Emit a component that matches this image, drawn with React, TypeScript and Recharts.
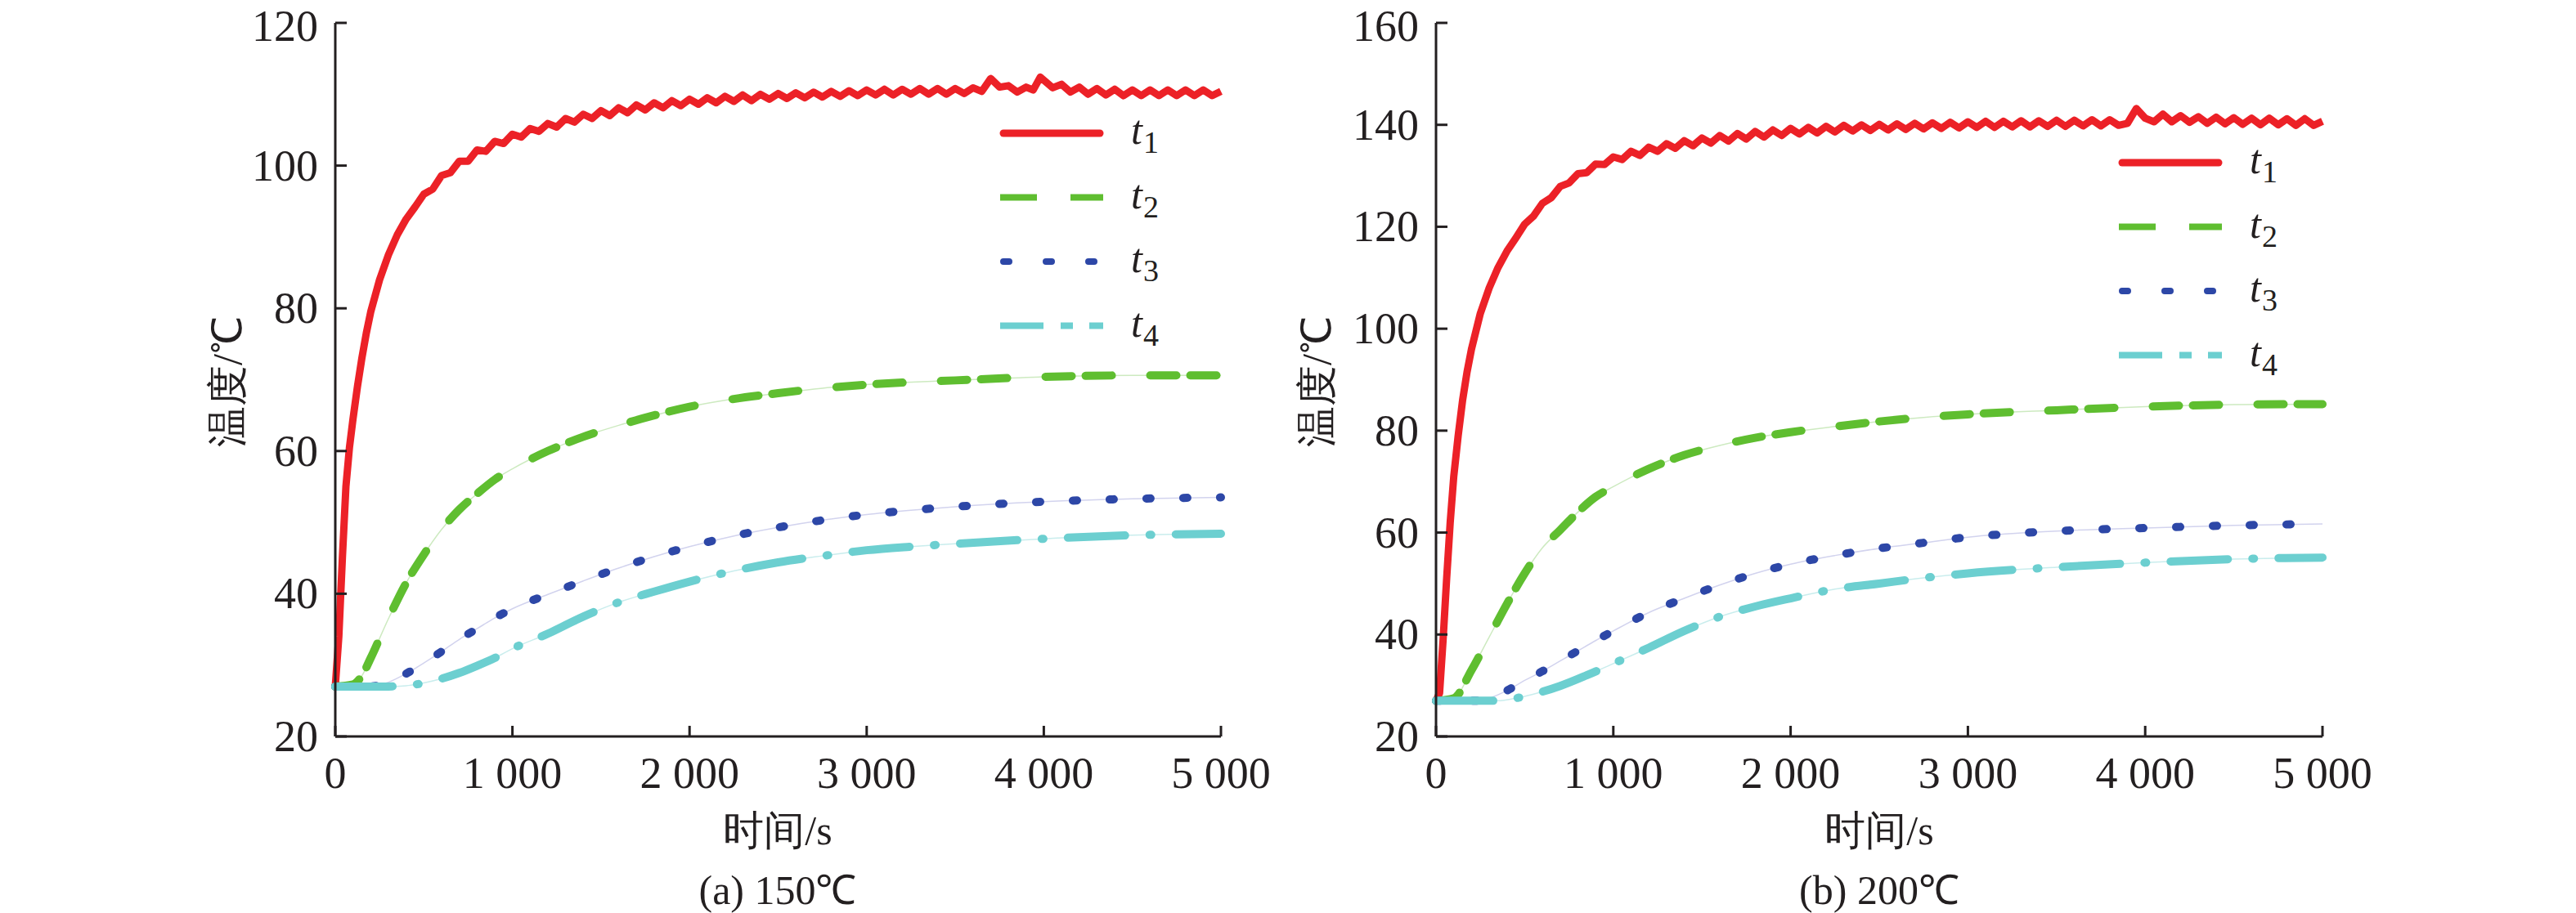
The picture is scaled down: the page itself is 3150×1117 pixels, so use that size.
import React from 'react';
import { LineChart, Line, XAxis, YAxis, Legend } from 'recharts';

// ---------- data: [time (s), temperature (°C)] ----------
const xTicks = [0, 1000, 2000, 3000, 4000, 5000];
const yTicksA = [20, 40, 60, 80, 100, 120];
const yTicksB = [20, 40, 60, 80, 100, 120, 140, 160];

// (a) 150 ℃
const a_t1: [number, number][] = [
  [0, 27], [20, 34], [40, 45], [60, 55], [80, 60.5], [100, 64.5], [125, 69], [150, 73], [175, 76.5],
  [200, 79.5], [250, 84], [300, 87.5], [350, 90.3], [400, 92.5], [450, 94.2], [500, 96.0], [550, 96.7],
  [600, 98.6], [650, 99.0], [700, 100.6], [750, 100.6], [800, 102.2], [850, 102.0], [900, 103.4],
  [950, 103.1], [1000, 104.4], [1050, 104.0], [1100, 105.2], [1150, 104.8], [1200, 105.9], [1250, 105.4],
  [1300, 106.6], [1350, 106.1], [1400, 107.2], [1450, 106.6], [1500, 107.7], [1550, 107.0], [1600, 108.1],
  [1650, 107.4], [1700, 108.5], [1750, 107.8], [1800, 108.8], [1850, 108.1], [1900, 109.1], [1950, 108.4],
  [2000, 109.3], [2050, 108.6], [2100, 109.5], [2150, 108.8], [2200, 109.7], [2250, 109.0], [2300, 109.9],
  [2350, 109.1], [2400, 110.0], [2450, 109.3], [2500, 110.1], [2550, 109.4], [2600, 110.2], [2650, 109.5],
  [2700, 110.3], [2750, 109.6], [2800, 110.4], [2850, 109.7], [2900, 110.5], [2950, 109.8], [3000, 110.6],
  [3050, 109.9], [3100, 110.7], [3150, 109.9], [3200, 110.7], [3250, 110.0], [3300, 110.8], [3350, 110.0],
  [3400, 110.8], [3450, 110.0], [3500, 110.8], [3550, 110.1], [3600, 110.9], [3650, 110.4], [3700, 112.2],
  [3750, 111.0], [3800, 111.2], [3850, 110.3], [3900, 111.0], [3940, 110.6], [3980, 112.4], [4050, 110.9],
  [4100, 111.4], [4150, 110.3], [4200, 111.0], [4250, 110.0], [4300, 110.8], [4350, 109.9], [4400, 110.7],
  [4450, 109.8], [4500, 110.6], [4550, 109.8], [4600, 110.6], [4650, 109.8], [4700, 110.6], [4750, 109.8],
  [4800, 110.6], [4850, 109.8], [4900, 110.6], [4950, 109.8], [5000, 110.4],
];
const a_t2: [number, number][] = [
  [0, 27], [100, 27.3], [150, 28.5], [200, 31], [300, 36.5], [400, 41.5], [500, 45.5], [600, 49],
  [700, 51.8], [800, 54], [900, 56], [1000, 57.5], [1200, 60], [1400, 62], [1600, 63.6], [1800, 65],
  [2000, 66.2], [2250, 67.3], [2500, 68.1], [2750, 68.8], [3000, 69.3], [3500, 69.9], [4000, 70.4],
  [4500, 70.6], [5000, 70.6],
];
const a_t3: [number, number][] = [
  [0, 27], [200, 27], [300, 27.6], [400, 28.8], [500, 30.3], [600, 31.9], [700, 33.6], [800, 35.1],
  [900, 36.6], [1000, 37.9], [1200, 39.9], [1400, 41.8], [1600, 43.6], [1800, 45.2], [2000, 46.6],
  [2250, 48.1], [2500, 49.3], [2750, 50.3], [3000, 51.1], [3250, 51.7], [3500, 52.2], [4000, 52.9],
  [4500, 53.3], [5000, 53.5],
];
const a_t4: [number, number][] = [
  [0, 27], [300, 27], [400, 27.1], [500, 27.5], [600, 28.1], [700, 28.9], [800, 29.9], [900, 31],
  [1000, 32.3], [1200, 34.4], [1400, 36.8], [1600, 38.8], [1800, 40.3], [2000, 41.7], [2250, 43.2],
  [2500, 44.4], [2750, 45.3], [3000, 46.1], [3250, 46.6], [3500, 47], [4000, 47.7], [4500, 48.2],
  [5000, 48.4],
];

// (b) 200 ℃
const b_t1: [number, number][] = [
  [0, 27], [20, 28.5], [40, 39], [60, 51], [80, 62], [100, 71], [125, 79], [150, 86], [175, 91.5],
  [200, 96], [250, 103], [300, 108], [350, 112], [400, 115.2], [450, 117.8], [500, 120.5], [550, 122.1],
  [600, 124.6], [650, 125.7], [700, 127.9], [750, 128.6], [800, 130.4], [850, 130.6], [900, 132.3],
  [950, 132.2], [1000, 133.7], [1050, 133.2], [1100, 134.8], [1150, 134.0], [1200, 135.6], [1250, 134.8],
  [1300, 136.3], [1350, 135.4], [1400, 136.9], [1450, 135.9], [1500, 137.4], [1550, 136.4], [1600, 137.9],
  [1650, 136.8], [1700, 138.3], [1750, 137.2], [1800, 138.7], [1850, 137.6], [1900, 139.0], [1950, 137.9],
  [2000, 139.3], [2050, 138.2], [2100, 139.5], [2150, 138.4], [2200, 139.7], [2250, 138.6], [2300, 139.9],
  [2350, 138.8], [2400, 140.0], [2450, 138.9], [2500, 140.1], [2550, 139.0], [2600, 140.2], [2650, 139.1],
  [2700, 140.3], [2750, 139.2], [2800, 140.4], [2850, 139.3], [2900, 140.5], [2950, 139.4], [3000, 140.6],
  [3050, 139.5], [3100, 140.7], [3150, 139.5], [3200, 140.7], [3250, 139.6], [3300, 140.8], [3350, 139.6],
  [3400, 140.8], [3450, 139.7], [3500, 140.9], [3550, 139.7], [3600, 140.9], [3650, 139.8], [3700, 141.0],
  [3750, 139.8], [3800, 141.0], [3850, 139.9], [3900, 140.3], [3950, 143.2], [4000, 141.3], [4050, 140.6],
  [4100, 142.1], [4150, 140.6], [4200, 141.8], [4250, 140.5], [4300, 141.6], [4350, 140.3], [4400, 141.5],
  [4450, 140.2], [4500, 141.4], [4550, 140.1], [4600, 141.3], [4650, 140.0], [4700, 141.3], [4750, 140.0],
  [4800, 141.2], [4850, 139.9], [4900, 141.2], [4950, 139.9], [5000, 140.7],
];
const b_t2: [number, number][] = [
  [0, 27], [100, 27.5], [200, 33], [300, 39.5], [400, 46], [500, 52], [600, 57], [700, 60.5], [800, 64],
  [900, 67], [1000, 69], [1200, 72.5], [1400, 75.2], [1600, 77.1], [1800, 78.6], [2000, 79.7],
  [2250, 80.8], [2500, 81.8], [2750, 82.6], [3000, 83.2], [3500, 84], [4000, 84.7], [4500, 85.1],
  [5000, 85.2],
];
const b_t3: [number, number][] = [
  [0, 27], [250, 27], [300, 27.5], [400, 29], [500, 31], [600, 32.8], [700, 34.8], [800, 36.8],
  [900, 38.8], [1000, 40.7], [1200, 44.3], [1400, 47.1], [1600, 49.7], [1800, 52], [2000, 53.8],
  [2250, 55.5], [2500, 56.9], [2750, 58], [3000, 59.1], [3250, 59.8], [3500, 60.3], [4000, 60.9],
  [4500, 61.4], [5000, 61.7],
];
const b_t4: [number, number][] = [
  [0, 27], [350, 27], [450, 27.5], [550, 28.3], [700, 29.9], [850, 32], [1000, 34.3], [1200, 37.4],
  [1400, 40.7], [1600, 43.5], [1800, 45.5], [2000, 47.1], [2250, 48.9], [2500, 50], [2750, 51.1],
  [3000, 52], [3500, 53.2], [4000, 54.1], [4500, 54.8], [5000, 55.1],
];

// ---------- styles ----------
const FONT = "'Liberation Serif', 'Times New Roman', serif";
const INK = '#231F20';
const RED = '#EC2127';
const GREEN = '#5FBE30';
const BLUE = '#2D47A7';
const CYAN = '#6CCFD0';

const legendPattern: Record<string, { color: string; dash?: string; cap: 'butt' | 'round'; x1: number; w: number }> = {
  t1: { color: RED, cap: 'round', x1: 4, w: 9 },
  t2: { color: GREEN, dash: '45 41 40', cap: 'butt', x1: 0, w: 8 },
  t3: { color: BLUE, dash: '7 45', cap: 'round', x1: 4, w: 8 },
  t4: { color: CYAN, dash: '53 21 15 20 17', cap: 'butt', x1: 0, w: 8 },
};

const toRows = (arr: [number, number][]) => arr.map(([t, v]) => ({ t, v }));

const YTick = (props: any) => {
  const { x, y, payload } = props;
  const ty = Math.max(y, 32);
  return (
    <g>
      <line x1={x} x2={x + 14} y1={y} y2={y} stroke={INK} strokeWidth={3} />
      <text x={x - 21} y={ty} textAnchor="end" dominantBaseline="central" fontSize={54} fontFamily={FONT} fill={INK}>
        {payload.value}
      </text>
    </g>
  );
};

const XTick = (props: any) => {
  const { x, y, payload } = props;
  const v = payload.value as number;
  const label = v === 0 ? '0' : `${Math.floor(v / 1000)} 000`;
  return (
    <g>
      <line x1={x} x2={x} y1={y} y2={y - 13} stroke={INK} strokeWidth={3} />
      <text x={x} y={y + 45} textAnchor="middle" dominantBaseline="central" fontSize={54} fontFamily={FONT} fill={INK}>
        {label}
      </text>
    </g>
  );
};

const LegendBox = (props: any) => {
  const items = (props.payload || []).filter((p: any) => p.type !== 'none' && legendPattern[p.value]);
  return (
    <svg width={240} height={340} style={{ overflow: 'visible' }}>
      {items.map((it: any, i: number) => {
        const pat = legendPattern[it.value];
        const y = 40 + i * 78.5;
        return (
          <g key={it.value}>
            <line x1={pat.x1} x2={pat.cap === 'round' ? 122 : 126} y1={y} y2={y} stroke={pat.color} strokeWidth={pat.w}
              strokeDasharray={pat.dash} strokeLinecap={pat.cap} />
            <text x={160} y={y + 13} fontSize={50} fontStyle="italic" fontFamily={FONT} fill={INK}>
              t
              <tspan fontSize={38} fontStyle="normal" dx={1} dy={11}>{it.value.slice(1)}</tspan>
            </text>
          </g>
        );
      })}
    </svg>
  );
};

type PanelProps = {
  left: number;
  marginLeft: number;
  marginRight: number;
  yDomain: [number, number];
  yTicks: number[];
  s1: [number, number][];
  s2: [number, number][];
  s3: [number, number][];
  s4: [number, number][];
  legendLeft: number;
  legendTop: number;
  yTitleX: number;
  centerX: number;
  caption: string;
};

const Panel = (p: PanelProps) => (
  <div style={{ position: 'absolute', left: p.left, top: 0, width: 1575, height: 1117 }}>
    <LineChart width={1575} height={1117}
      margin={{ top: 28, right: p.marginRight, bottom: 116, left: p.marginLeft }}>
      <XAxis dataKey="t" type="number" domain={[0, 5000]} ticks={xTicks} interval={0}
        tickSize={0} tickMargin={0} tickLine={false} tick={<XTick />} height={100}
        axisLine={{ stroke: INK, strokeWidth: 3 }} allowDuplicatedCategory={false} />
      <YAxis type="number" domain={p.yDomain} ticks={p.yTicks} interval={0}
        tickSize={0} tickMargin={0} tickLine={false} tick={<YTick />} width={100}
        axisLine={{ stroke: INK, strokeWidth: 3 }} />
      <Legend layout="vertical" align="center" verticalAlign="middle" content={<LegendBox />}
        wrapperStyle={{ position: 'absolute', left: p.legendLeft, top: p.legendTop, width: 240, height: 340 }} />

      <Line data={toRows(p.s2)} dataKey="v" name="f2" legendType="none" type="monotone" stroke="#cdeac0"
        strokeWidth={1.5} dot={false} activeDot={false} isAnimationActive={false} />
      <Line data={toRows(p.s3)} dataKey="v" name="f3" legendType="none" type="monotone" stroke="#d2d3ee"
        strokeWidth={1.5} dot={false} activeDot={false} isAnimationActive={false} />
      <Line data={toRows(p.s4)} dataKey="v" name="f4" legendType="none" type="monotone" stroke="#c9eded"
        strokeWidth={1.5} dot={false} activeDot={false} isAnimationActive={false} />

      <Line data={toRows(p.s1)} dataKey="v" name="t1" type="linear" stroke={RED} strokeWidth={9}
        strokeLinejoin="round" dot={false} activeDot={false} isAnimationActive={false} />
      <Line data={toRows(p.s2)} dataKey="v" name="t2" type="monotone" stroke={GREEN} strokeWidth={10}
        strokeDasharray="32 17 32 47" strokeLinecap="round" dot={false} activeDot={false} isAnimationActive={false} />
      <Line data={toRows(p.s3)} dataKey="v" name="t3" type="monotone" stroke={BLUE} strokeWidth={10}
        strokeDasharray="5 40" strokeLinecap="round" dot={false} activeDot={false} isAnimationActive={false} />
      <Line data={toRows(p.s4)} dataKey="v" name="t4" type="monotone" stroke={CYAN} strokeWidth={10}
        strokeDasharray="70 30 2 30" strokeLinecap="round" dot={false} activeDot={false} isAnimationActive={false} />

      <text x={p.yTitleX} y={467} transform={`rotate(-90 ${p.yTitleX} 467)`} textAnchor="middle"
        dominantBaseline="central" fontSize={50} fontFamily={FONT} fill={INK}>温度/℃</text>
      <text x={p.centerX} y={1016} textAnchor="middle" dominantBaseline="central" fontSize={50}
        fontFamily={FONT} fill={INK}>时间/s</text>
      <text x={p.centerX} y={1089} textAnchor="middle" dominantBaseline="central" fontSize={50}
        fontFamily={FONT} fill={INK}>{p.caption}</text>
    </LineChart>
  </div>
);

export default function App() {
  return (
    <div style={{ position: 'absolute', left: 0, top: 0, width: 3150, height: 1117, background: '#fff' }}>
      <Panel left={0} marginLeft={310} marginRight={82} yDomain={[20, 120]} yTicks={yTicksA}
        s1={a_t1} s2={a_t2} s3={a_t3} s4={a_t4} legendLeft={1223} legendTop={123}
        yTitleX={278} centerX={951} caption="(a) 150℃" />
      <Panel left={1575} marginLeft={81} marginRight={310} yDomain={[20, 160]} yTicks={yTicksB}
        s1={b_t1} s2={b_t2} s3={b_t3} s4={b_t4} legendLeft={1016} legendTop={159}
        yTitleX={35} centerX={723} caption="(b) 200℃" />
    </div>
  );
}
